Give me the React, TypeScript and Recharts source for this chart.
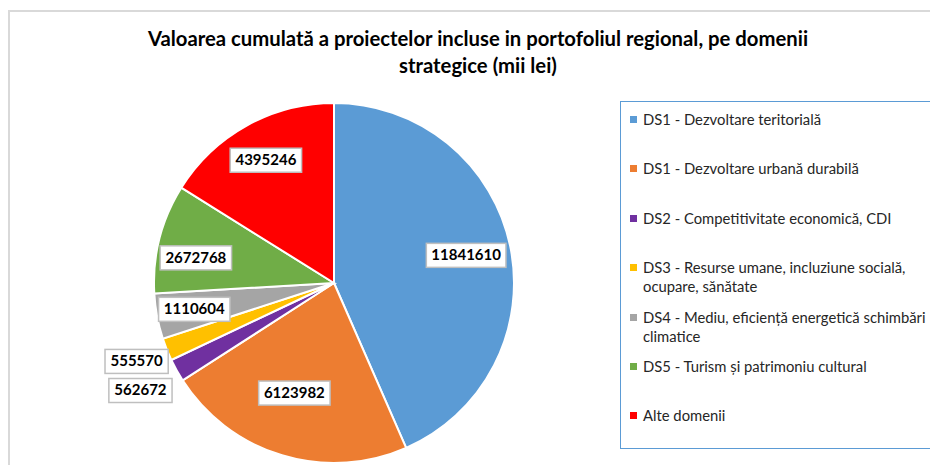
import React from "react";
import { PieChart, Pie, Cell, Legend } from "recharts";

const categories = [
  "DS1 - Dezvoltare teritorială",
  "DS1 - Dezvoltare urbană durabilă",
  "DS2 - Competitivitate economică, CDI",
  "DS3 - Resurse umane, incluziune socială, ocupare, sănătate",
  "DS4 - Mediu, eficiență energetică schimbări climatice",
  "DS5 - Turism și patrimoniu cultural",
  "Alte domenii",
];
const values = [11841610, 6123982, 562672, 555570, 1110604, 2672768, 4395246];
const colors = ["#5b9bd5", "#ed7d31", "#7030a0", "#ffc000", "#a5a5a5", "#70ad47", "#ff0000"];

// where each value box sits: fraction of the radius, and a small turn off the slice middle (degrees)
const labelRadius = [0.75, 0.65, 1.23, 1.18, 0.79, 0.78, 0.78];
const labelTurn = [0, -3, 0, 0, 0, 4, 0];

const data = categories.map((name, i) => ({ name, value: values[i] }));

const FONT = "Lato, 'Open Sans', sans-serif";
const RAD = Math.PI / 180;

const renderLabel = (props: any) => {
  const { cx, cy, midAngle, outerRadius, index, value } = props;
  const r = outerRadius * labelRadius[index];
  const a = midAngle + labelTurn[index];
  const x = cx + r * Math.cos(-a * RAD);
  const y = cy + r * Math.sin(-a * RAD);
  const txt = String(value);
  const w = txt.length * 8.2 + 14;
  const h = 24;
  return (
    <g>
      <rect x={x - w / 2} y={y - h / 2} width={w} height={h} fill="#fff" stroke="#bfbfbf" strokeWidth={1.5} />
      <text x={x} y={y + 1} textAnchor="middle" dominantBaseline="middle" fontFamily={FONT} fontWeight={700} fontSize={15} fill="#000">
        {txt}
      </text>
    </g>
  );
};

const renderLegend = (props: any) => {
  const payload = [...(props.payload || [])].sort(
    (a: any, b: any) => categories.indexOf(a.value) - categories.indexOf(b.value)
  );
  return (
    <div style={{ width: 330, height: 348, border: "1.5px solid #5b9bd5", boxSizing: "border-box", paddingTop: 8 }}>
      {payload.map((p: any, i: number) => (
        <div key={i} style={{ height: 49.4, display: "flex", alignItems: "flex-start", fontFamily: FONT, fontSize: 14.8, color: "#262626", lineHeight: "19px" }}>
          <span style={{ width: 7, height: 7, background: p.color, marginLeft: 9, marginRight: 6, marginTop: 6, flex: "none" }} />
          <span style={{ width: 300 }}>{p.value}</span>
        </div>
      ))}
    </div>
  );
};

export default function App() {
  return (
    <div style={{ position: "absolute", left: 0, top: 0, width: 930, height: 465, overflow: "hidden", background: "#fff" }}>
      <div style={{ position: "absolute", left: 8, top: 10, width: 960, height: 500, borderLeft: "2px solid #d9d9d9", borderTop: "2px solid #d9d9d9" }} />
      <div style={{ position: "absolute", left: 0, top: 25, width: 956, textAlign: "center", fontFamily: FONT, fontWeight: 700, fontSize: 20.3, lineHeight: "27px", color: "#000" }}>
        Valoarea cumulată a proiectelor incluse in portofoliul regional, pe domenii
        <br />
        strategice (mii lei)
      </div>
      <div style={{ position: "absolute", left: 0, top: 0 }}>
        <PieChart width={930} height={465} margin={{ top: 0, right: 0, bottom: 0, left: 0 }}>
          <Pie
            data={data}
            dataKey="value"
            nameKey="name"
            cx={334}
            cy={283}
            outerRadius={180}
            startAngle={90}
            endAngle={-270}
            stroke="#fff"
            strokeWidth={2}
            label={renderLabel}
            labelLine={false}
            isAnimationActive={false}
          >
            {data.map((d, i) => (
              <Cell key={d.name} fill={colors[i]} />
            ))}
          </Pie>
          <Legend
            content={renderLegend}
            layout="vertical"
            verticalAlign="middle"
            align="right"
            wrapperStyle={{ position: "absolute", left: 620, top: 101, width: 330 }}
          />
        </PieChart>
      </div>
    </div>
  );
}
